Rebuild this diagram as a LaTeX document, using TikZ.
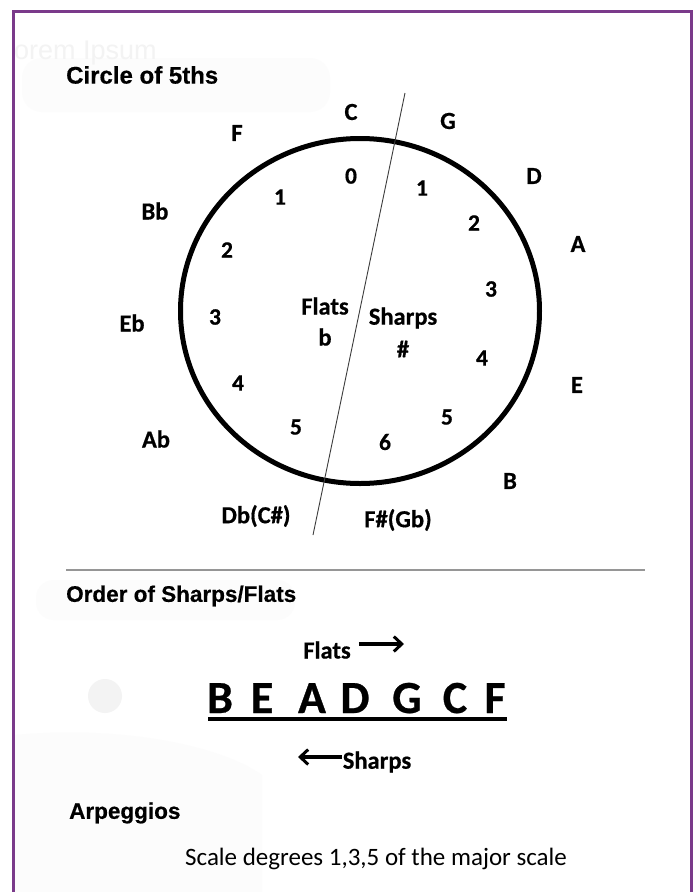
\documentclass[tikz,border=0pt]{standalone}
\usepackage{fontspec}
\setmainfont{Carlito}[BoldFeatures={FakeBold=0.6}]
\newfontfamily\headfont{Liberation Sans}[BoldFeatures={FakeBold=0.5}]
\usetikzlibrary{arrows.meta,shapes.geometric}
\usepackage{xcolor}
\definecolor{framepurple}{RGB}{122,58,138}
\definecolor{rulegray}{RGB}{150,150,150}
\definecolor{splitgray}{RGB}{60,60,60}
\definecolor{smudge}{RGB}{252,252,252}
\definecolor{smudgedot}{RGB}{243,243,243}
\definecolor{ghosttext}{RGB}{243,243,243}

\begin{document}
\begin{tikzpicture}[x=1pt,y=-1pt,
  keylabel/.style={inner sep=0pt,font=\fontsize{24.5}{28}\selectfont\bfseries},
  countlabel/.style={inner sep=0pt,font=\fontsize{23.5}{27}\selectfont\bfseries},
  heading/.style={anchor=west,inner sep=0pt,font=\headfont\fontsize{22.5}{26}\selectfont\bfseries},
  orderletter/.style={anchor=base,inner sep=0pt,font=\fontsize{46}{50}\selectfont\bfseries},
  dirarrow/.style={line width=3.2pt,-{Straight Barb[length=8pt,width=15pt,line width=3pt]}}]

  \useasboundingbox (0,0) rectangle (696,892);
  \fill[white] (0,0) rectangle (696,892);

  % ── FAINT BACKGROUND SMUDGES ──────────────────────────────────────────────
  \fill[smudge,rounded corners=20pt] (22,58) rectangle (330,112);
  \fill[smudge,rounded corners=18pt] (36,580) rectangle (295,620);
  \fill[smudgedot] (105,696) circle (17);
  \fill[smudge] (14,735) .. controls (120,725) and (220,745) .. (262,775)
    -- (262,892) -- (14,892) -- cycle;
  \begin{scope}
    \clip (14,0) rectangle (696,892);
    \node[anchor=west,inner sep=0pt,text=ghosttext,font=\headfont\fontsize{27}{31}\selectfont]
      (ghost) at (-1,53) {Lorem Ipsum};
  \end{scope}

  % ── PURPLE FRAME (open at the bottom) ─────────────────────────────────────
  \draw[framepurple,line width=3pt] (13,892) -- (13,11) -- (691,11) -- (691,892);

  % ── CIRCLE OF FIFTHS ──────────────────────────────────────────────────────
  \node[heading,font=\headfont\fontsize{24}{28}\selectfont\bfseries]
    (hCircle) at (66,75) {Circle of 5ths};

  \node[draw,ellipse,line width=5pt,minimum width=359pt,minimum height=345pt,inner sep=0pt]
    (wheel) at (360,311) {};

  % divider between the flat and the sharp side
  \coordinate (splitTop) at (405,93);
  \coordinate (splitBot) at (313,535);
  \draw[splitgray,line width=0.9pt] (splitTop) -- (splitBot);

  % keys round the outside
  \foreach \nm/\x/\y/\txt in {kC/351/112/C, kG/448/121/G, kD/534/176/D, kA/578/244/A,
      kE/577/385/E, kB/510/481/B, kFs/398/520/{F\#(Gb)}, kDb/256/516/{Db(C\#)},
      kAb/156/439/Ab, kEb/132/323/Eb, kBb/155/211/Bb, kF/237/133/F}
    \node[keylabel] (\nm) at (\x,\y) {\txt};

  % number of sharps / flats inside
  \foreach \nm/\x/\y/\txt in {s0/351/176/0, s1/422/188/1, s2/474/223/2, s3/491/289/3,
      s4/482/358/4, s5/447/417/5, s6/385/442/6,
      f1/280/197/1, f2/227/250/2, f3/215/317/3, f4/238/383/4, f5/296/427/5}
    \node[countlabel] (\nm) at (\x,\y) {\txt};

  \node[keylabel] (flatsSide) at (325,306) {Flats};
  \node[keylabel] (flatSign) at (325,337) {b};
  \node[keylabel] (sharpsSide) at (403,318) {Sharps};
  \node[keylabel] (sharpSign) at (403,349) {\#};

  % ── ORDER OF SHARPS / FLATS ───────────────────────────────────────────────
  \draw[rulegray,line width=1.2pt] (66,570) -- (645,570);
  \node[heading] (hOrder) at (66,596) {Order of Sharps/Flats};

  \node[keylabel] (flatsLbl) at (327,650) {Flats};
  \coordinate (flatsTip) at (404,644);
  \draw[dirarrow] ([shift={(8,-6)}]flatsLbl.east) -- (flatsTip);

  \foreach \nm/\x/\txt in {oB/220/B, oE/262/E, oA/312/A, oD/355/D, oG/407/G, oC/455/C, oF/495/F}
    \node[orderletter] (\nm) at (\x,713) {\txt};
  \coordinate (ulStart) at (208,719);
  \coordinate (ulEnd) at (507,719);
  \draw[line width=4pt] (ulStart) -- (ulEnd);

  \node[keylabel] (sharpsLbl) at (377,762) {Sharps};
  \coordinate (sharpsTip) at (298,757);
  \draw[dirarrow] ([shift={(-1,-5)}]sharpsLbl.west) -- (sharpsTip);

  % ── ARPEGGIOS ─────────────────────────────────────────────────────────────
  \node[heading] (hArp) at (69,813) {Arpeggios};
  \node[inner sep=0pt,font=\fontsize{25}{30}\selectfont]
    (arpNote) at (376,859) {Scale degrees 1,3,5 of the major scale};

\end{tikzpicture}
\end{document}
